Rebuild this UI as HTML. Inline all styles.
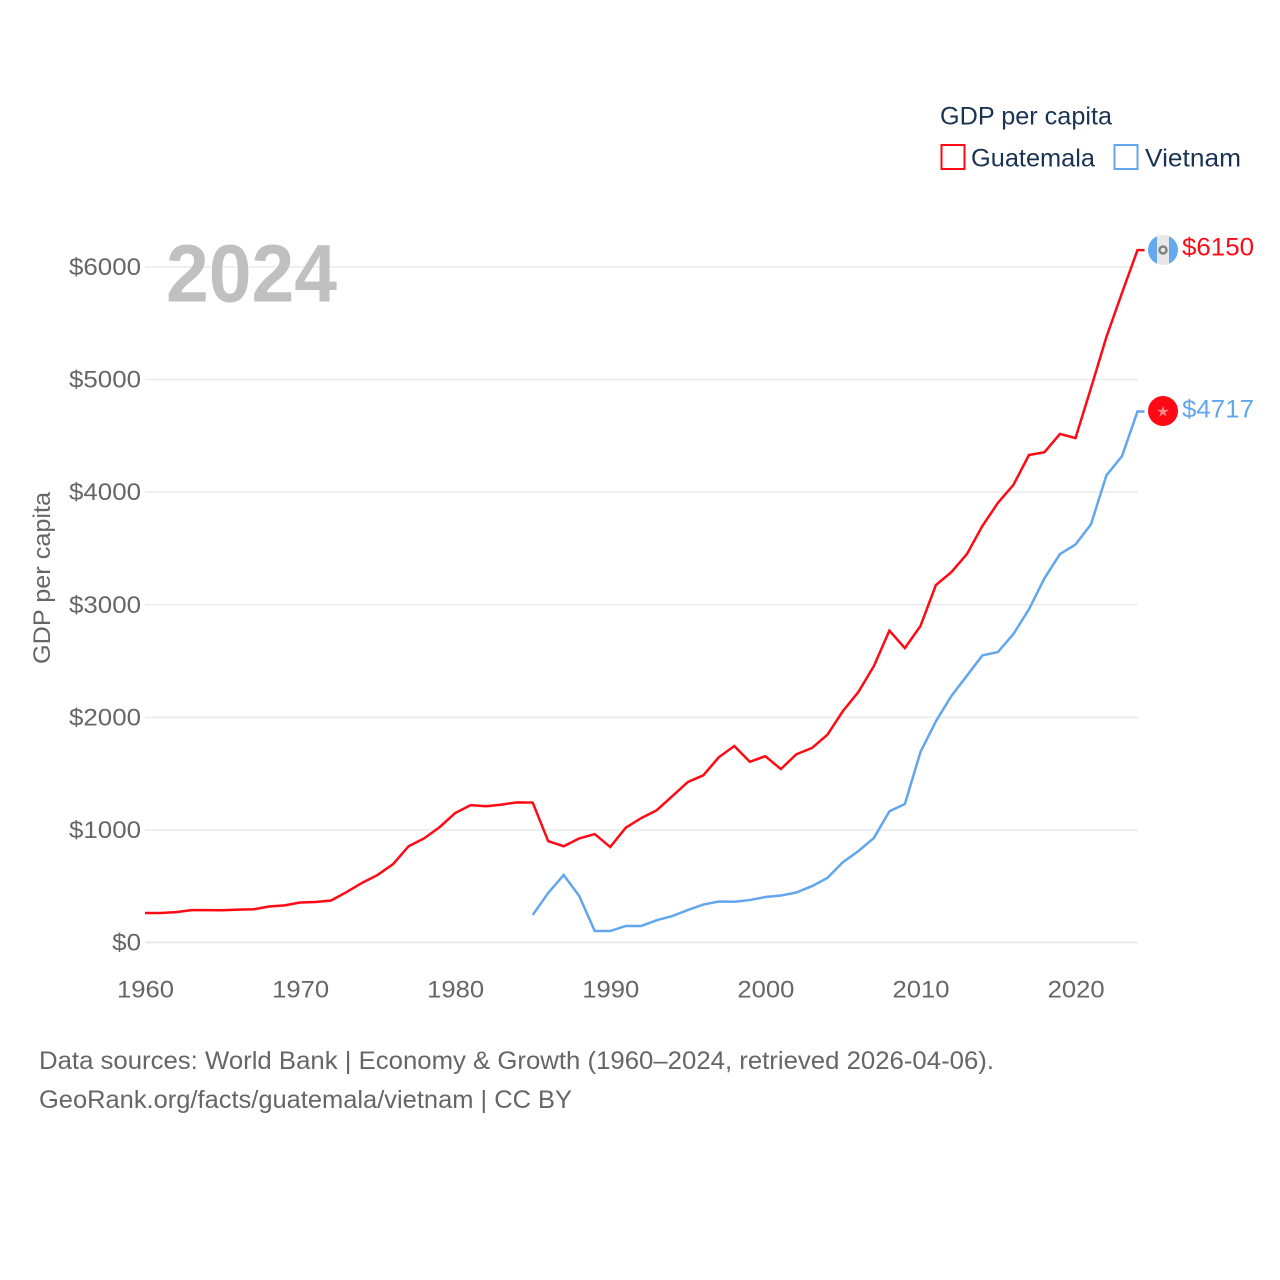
<!DOCTYPE html>
<html lang="en">
<head>
<meta charset="utf-8">
<title>GDP per capita: Guatemala and Vietnam</title>
<style>
html,body{margin:0;padding:0;background:#fff;}
svg{display:block;}
text{font-family:"Liberation Sans",sans-serif;}
</style>
</head>
<body>
<svg id="chart" xmlns="http://www.w3.org/2000/svg" width="1280" height="1280" viewBox="0 0 1280 1280">
  <rect x="0" y="0" width="1280" height="1280" fill="#ffffff"/>
  <g id="grid"></g>
  <text x="166" y="301.5" font-size="82" font-weight="700" fill="#c0c0c0" textLength="171" lengthAdjust="spacingAndGlyphs">2024</text>
  <g id="yticks"></g>
  <g id="xticks"></g>
  <text transform="translate(50,578) rotate(-90)" text-anchor="middle" font-size="24" fill="#666666" textLength="172" lengthAdjust="spacingAndGlyphs">GDP per capita</text>
  <g id="series"></g>

  <g id="flag-gt">
    <clipPath id="gt-clip"><circle cx="1163" cy="250" r="15"/></clipPath>
    <g clip-path="url(#gt-clip)">
      <rect x="1148" y="235" width="9" height="30" fill="#64a8ee"/>
      <rect x="1157" y="235" width="12" height="30" fill="#e8e8e8"/>
      <rect x="1169" y="235" width="9" height="30" fill="#64a8ee"/>
      <circle cx="1163" cy="250" r="3.5" fill="none" stroke="#808080" stroke-width="2.4"/>
    </g>
  </g>
  <g id="flag-vn">
    <circle cx="1163" cy="411" r="15" fill="#ff0a14"/>
    <text x="1163" y="416.5" text-anchor="middle" font-size="15" fill="#ff8a8a" style="font-family:'DejaVu Sans',sans-serif">★</text>
  </g>
  <text x="1182" y="255.5" font-size="25" fill="#ff0a14" textLength="72" lengthAdjust="spacingAndGlyphs">$6150</text>
  <text x="1182" y="417.5" font-size="25" fill="#62a6ee" textLength="72" lengthAdjust="spacingAndGlyphs">$4717</text>

  <g>
    <text x="940" y="124.5" font-size="25" fill="#1a3353" textLength="172" lengthAdjust="spacingAndGlyphs">GDP per capita</text>
    <g>
      <rect x="941.5" y="145" width="23" height="24" fill="none" stroke="#ff0a14" stroke-width="2"/>
      <text x="971" y="166.5" font-size="25" fill="#1a3353" textLength="124" lengthAdjust="spacingAndGlyphs">Guatemala</text>
    </g>
    <g>
      <rect x="1114.5" y="145" width="23" height="24" fill="none" stroke="#62a6ee" stroke-width="2"/>
      <text x="1145" y="166.5" font-size="25" fill="#1a3353" textLength="96" lengthAdjust="spacingAndGlyphs">Vietnam</text>
    </g>
  </g>

  <text x="39" y="1069" font-size="25" fill="#666666" textLength="955" lengthAdjust="spacingAndGlyphs">Data sources: World Bank | Economy &amp; Growth (1960–2024, retrieved 2026-04-06).</text>
  <text x="39" y="1108" font-size="25" fill="#666666" textLength="533" lengthAdjust="spacingAndGlyphs">GeoRank.org/facts/guatemala/vietnam | CC BY</text>
</svg>
<script>
const guatemalaStartYear = 1960;
const guatemalaValues = [262,262,270,288,288,286,292,295,320,330,355,360,373,448,530,600,697,855,925,1025,1150,1220,1210,1225,1245,1243,900,855,925,963,848,1020,1105,1175,1300,1425,1485,1645,1745,1605,1655,1540,1672,1727,1845,2055,2225,2455,2770,2615,2810,3175,3290,3450,3700,3905,4065,4330,4355,4517,4480,4925,5380,5770,6150];
const vietnamStartYear = 1985;
const vietnamValues = [245,440,600,413,102,102,147,147,198,235,288,337,364,362,377,404,417,444,500,573,713,812,928,1165,1230,1690,1965,2190,2370,2550,2580,2740,2960,3235,3450,3535,3715,4150,4320,4717];
const yTickValues = [0,1000,2000,3000,4000,5000,6000];
const yTickLabels = ["$0","$1000","$2000","$3000","$4000","$5000","$6000"];
const xTickYears = [1960,1970,1980,1990,2000,2010,2020];
const xTickLabels = ["1960","1970","1980","1990","2000","2010","2020"];

const NS = 'http://www.w3.org/2000/svg';
function xScale(year){ return 145 + (year - 1960) * (1137.5 - 145) / 64; }
function yScale(v){ return 942.5 - v * (942.5 - 267) / 6000; }
function make(tag, attrs, parent){
  const el = document.createElementNS(NS, tag);
  for (const k in attrs) el.setAttribute(k, attrs[k]);
  parent.appendChild(el);
  return el;
}

const grid = document.getElementById('grid');
const yticks = document.getElementById('yticks');
yTickValues.forEach(function(v, i){
  const y = yScale(v);
  const line = make('line', {x1:145, x2:1138, y1:y, y2:y, stroke: v === 0 ? '#e4e4e4' : '#ececec', 'stroke-width':1.6}, grid);
  
  
  const label = make('text', {x:141, y:y + 8, 'text-anchor':'end', 'font-size':24, fill:'#666666'}, yticks);
  
  
  label.setAttribute('textLength', String(yTickLabels[i].length * 14.4));
  label.setAttribute('lengthAdjust', 'spacingAndGlyphs');
  label.textContent = yTickLabels[i];
});

const xticks = document.getElementById('xticks');
xTickYears.forEach(function(year, i){
  const label = make('text', {x:145.5 + (year - 1960) * 15.51, y:997.5, 'text-anchor':'middle', 'font-size':24, fill:'#666666'}, xticks);
  
  
  label.setAttribute('textLength', '57');
  label.setAttribute('lengthAdjust', 'spacingAndGlyphs');
  label.textContent = xTickLabels[i];
});

function drawSeries(values, startYear, color, name){
  const pts = values.map(function(v, i){
    return xScale(startYear + i).toFixed(2) + ',' + yScale(v).toFixed(2);
  });
  const lastY = yScale(values[values.length - 1]);
  pts.push((xScale(startYear + values.length - 1) + 7).toFixed(2) + ',' + lastY.toFixed(2));
  const group = document.getElementById('series');
  const line = make('polyline', {points:pts.join(' '), fill:'none', stroke:color, 'stroke-width':2.5, 'stroke-linejoin':'miter'}, group);
  
  
}
drawSeries(vietnamValues, vietnamStartYear, '#62a6ee', 'vietnam-line');
drawSeries(guatemalaValues, guatemalaStartYear, '#ff0a14', 'guatemala-line');
</script>
</body>
</html>
